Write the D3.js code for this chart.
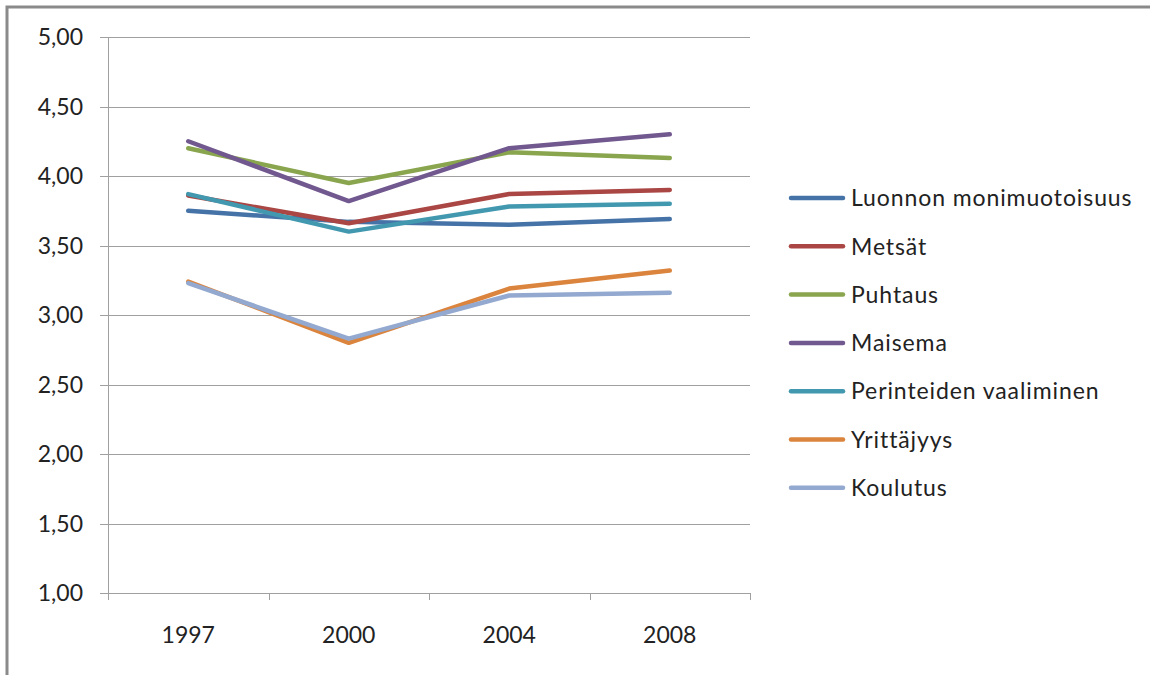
<!DOCTYPE html>
<html>
<head>
<meta charset="utf-8">
<script src="https://cdnjs.cloudflare.com/ajax/libs/d3/7.8.5/d3.min.js"></script>
<style>
  body { margin: 0; background: #fff; }
  svg text { font-family: Lato, "Open Sans", sans-serif; fill: #222; }
</style>
</head>
<body>
<div class="chart"></div>
<script>
var width = 1150;
var height = 675;

// data
var years = ["1997", "2000", "2004", "2008"];
var seriesNames = ["Luonnon monimuotoisuus", "Metsät", "Puhtaus", "Maisema",
                   "Perinteiden vaaliminen", "Yrittäjyys", "Koulutus"];
var seriesColors = ["#4572a7", "#aa4643", "#89a54e", "#71588f", "#4198af", "#db843d", "#93a9cf"];
var luonnon = [3.75, 3.67, 3.65, 3.69];
var metsat = [3.86, 3.66, 3.87, 3.90];
var puhtaus = [4.20, 3.95, 4.17, 4.13];
var maisema = [4.25, 3.82, 4.20, 4.30];
var perinteet = [3.87, 3.60, 3.78, 3.80];
var yrittajyys = [3.24, 2.80, 3.19, 3.32];
var koulutus = [3.23, 2.83, 3.14, 3.16];
var yTicks = [1, 1.5, 2, 2.5, 3, 3.5, 4, 4.5, 5];

var allValues = [luonnon, metsat, puhtaus, maisema, perinteet, yrittajyys, koulutus];
var series = seriesNames.map(function(name, i) {
    return { name: name, color: seriesColors[i], values: allValues[i] };
});

var plotLeft = 108, plotRight = 750, plotTop = 37, plotBottom = 593;

var svg = d3.select(".chart").append("svg")
    .attr("width", width)
    .attr("height", height);

// outer frame (only top and left edges show in the picture)
svg.append("path")
    .attr("d", "M7,675 V7 H1150")
    .attr("fill", "none")
    .attr("stroke", "#8a8a8a")
    .attr("stroke-width", 3);

var x = d3.scaleBand().domain(years).range([plotLeft, plotRight]);
var y = d3.scaleLinear().domain([1, 5]).range([plotBottom, plotTop]);

// gridlines
svg.append("g").selectAll("line")
    .data(yTicks)
    .enter().append("line")
    .attr("x1", plotLeft - 8)
    .attr("x2", plotRight)
    .attr("y1", function(d) { return Math.round(y(d)) + 0.5; })
    .attr("y2", function(d) { return Math.round(y(d)) + 0.5; })
    .attr("stroke", "#a0a0a0")
    .attr("stroke-width", 1);

// y axis line + labels
svg.append("line")
    .attr("x1", plotLeft + 0.5).attr("x2", plotLeft + 0.5)
    .attr("y1", plotTop).attr("y2", plotBottom + 6)
    .attr("stroke", "#a0a0a0");

svg.append("g").selectAll("text")
    .data(yTicks)
    .enter().append("text")
    .attr("x", 83)
    .attr("y", function(d) { return y(d); })
    .attr("dy", "0.36em")
    .attr("text-anchor", "end")
    .style("font-size", "23px")
    .text(function(d) { return d3.format(".2f")(d).replace(".", ","); });

// x axis ticks at band edges
var edges = years.map(function(d) { return x(d); }).concat([plotRight]);
svg.append("g").selectAll("line")
    .data(edges)
    .enter().append("line")
    .attr("x1", function(d) { return Math.round(d) + 0.5; })
    .attr("x2", function(d) { return Math.round(d) + 0.5; })
    .attr("y1", plotBottom)
    .attr("y2", plotBottom + 7)
    .attr("stroke", "#a0a0a0");

svg.append("g").selectAll("text")
    .data(years)
    .enter().append("text")
    .attr("x", function(d) { return x(d) + x.bandwidth() / 2; })
    .attr("y", 635)
    .attr("dy", "0.36em")
    .attr("text-anchor", "middle")
    .style("font-size", "23px")
    .text(function(d) { return d; });

// lines
var line = d3.line()
    .x(function(d, i) { return x(years[i]) + x.bandwidth() / 2; })
    .y(function(d) { return y(d); });

svg.append("g").selectAll("path")
    .data(series)
    .enter().append("path")
    .attr("d", function(d) { return line(d.values); })
    .attr("fill", "none")
    .attr("stroke", function(d) { return d.color; })
    .attr("stroke-width", 4.5)
    .attr("stroke-linecap", "round")
    .attr("stroke-linejoin", "round");

// legend
var legend = svg.append("g").selectAll("g")
    .data(series)
    .enter().append("g")
    .attr("transform", function(d, i) { return "translate(791," + (198 + i * 48.3) + ")"; });

legend.append("line")
    .attr("x1", 0).attr("x2", 52)
    .attr("stroke", function(d) { return d.color; })
    .attr("stroke-width", 4.5)
    .attr("stroke-linecap", "round");

legend.append("text")
    .attr("x", 60)
    .attr("dy", "0.36em")
    .style("font-size", "23px")
    .style("letter-spacing", "0.9px")
    .text(function(d) { return d.name; });
</script>
</body>
</html>
